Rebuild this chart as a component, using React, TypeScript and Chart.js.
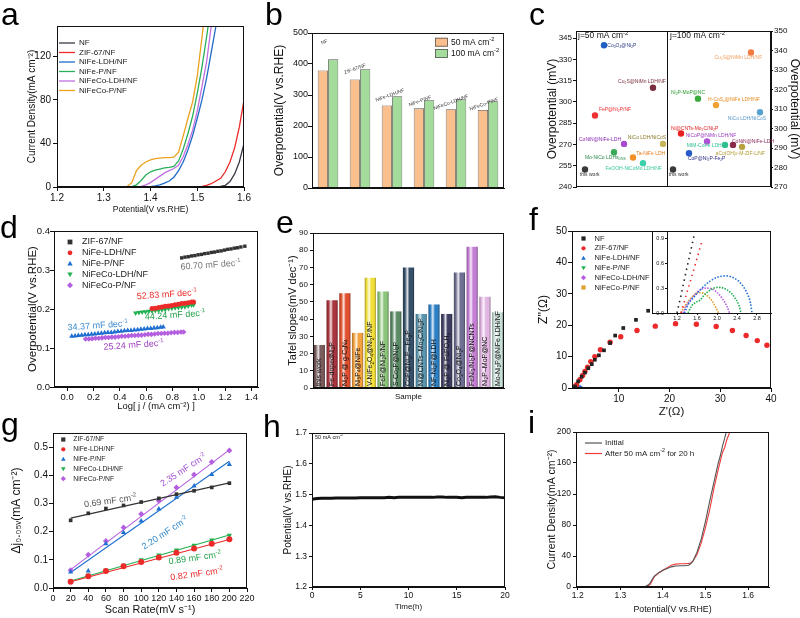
import React, { useEffect, useRef } from "react";
import { Chart, registerables } from "chart.js";

Chart.register(...registerables);

const FONT = '"Liberation Sans", Arial, Helvetica, sans-serif';

/* ================= DATA ================= */
// (a) LSV curves
const A_SERIES = ["NF", "ZIF-67/NF", "NiFe-LDH/NF", "NiFe-P/NF", "NiFeCo-LDH/NF", "NiFeCo-P/NF"];
const A_POTENTIAL = [1.2, 1.3, 1.34, 1.35, 1.36, 1.37, 1.38, 1.39, 1.4, 1.41, 1.42, 1.43, 1.44, 1.45, 1.46, 1.47, 1.48, 1.49, 1.5, 1.51, 1.52, 1.53, 1.54, 1.55, 1.56, 1.57, 1.58, 1.59, 1.6];
const A_NF = [0, 0, 0, 0, 0, 0, 0, 0, 0, 0, 0, 0, 0, 0, 0, 0, 0, 0, 0, 0, 0, 0.1, 0.2, 0.5, 1.5, 5, 12, 23, 40];
const A_ZIF = [0.2, 0.2, 0.2, 0.2, 0.2, 0.2, 0.2, 0.2, 0.2, 0.2, 0.2, 0.2, 0.2, 0.2, 0.2, 0.2, 0.2, 0.3, 0.4, 0.6, 1.5, 3, 5.5, 8, 14, 23, 36, 55, 80];
const A_NIFE_LDH = [0, 0, 0, 0, 0, 0, 0, 0, 0.3, 1, 2, 3.5, 5.5, 9, 15, 23, 34, 47, 63, 80, 100, 124, 148, 175, null, null, null, null, null];
const A_NIFE_P = [0, 0, 0, 0, 0.3, 2, 6, 11, 14, 15.5, 16.5, 17.5, 18, 19, 24, 35, 49, 65, 86, 110, 138, 168, null, null, null, null, null, null, null];
const A_NIFECO_LDH = [0, 0, 0, 0, 0, 0, 0.5, 2, 4, 7, 10, 13, 15, 17, 20, 28, 39, 52, 70, 92, 115, 148, 185, null, null, null, null, null, null];
const A_NIFECO_P = [0, 0, 0, 0.5, 4, 15, 20, 23, 25, 26, 26.5, 27, 27, 27.5, 32, 47, 63, 78, 102, 137, 175, null, null, null, null, null, null, null, null];
const A_XTICKS = [1.2, 1.3, 1.4, 1.5, 1.6];
const A_YTICKS = [0, 40, 80, 120];

// (b) overpotential bars
const B_SAMPLES = ["NF", "ZIF-67/NF", "NiFe-LDH/NF", "NiFe-P/NF", "NiFeCo-LDH/NF", "NiFeCo-P/NF"];
const B_50 = [379, 350, 266, 257, 254, 252];
const B_100 = [415, 383, 296, 283, 286, 280];
const B_YTICKS = [0, 100, 200, 300, 400, 500];

// (c) comparison with literature
const C50_NAMES = ["Co_{3}O_{4}@Ni_{2}P", "Cu_{2}S@NiMn LDH/NF", "FeP@Ni_{2}P/NF", "CoNiN@NiFe-LDH", "NiCo LDH/NiCoS", "Mo-NiCo LDHs_{DNS}", "Ta-NiFe LDH", "FeOOH-NiCoMo LDH/NF", "this work"];
const C50_VALUES = [340, 310, 290.4, 270.4, 270.4, 264.5, 260.8, 256.8, 252.3];
const C50_SLOT = [28, 77, 19, 48, 87, 38, 57, 67, 9];
const C100_NAMES = ["Cu_{2}S@NiMn LDH/NF", "Ni_{2}P-MoP@NC", "H-CoS_{x}@NiFe LDH/NF", "NiCo LDH/NiCoS", "Ni@CNTs-Mo_{2}C/Ni_{2}P", "NiCoP@NiMn LDH/NF", "MIM-CoFe LDH", "CoNiN@NiFe-LDH", "aCo(OH)_{2}-M-ZIF-L/NF", "CoP@Ni_{2}P-Fe_{2}P", "this work"];
const C100_VALUES = [339, 315.3, 312, 308.3, 297.4, 293.3, 291.6, 291.6, 290.6, 287.3, 279];
const C100_SLOT = [175, 122, 140, 184, 105, 131, 149, 157, 166, 113, 97];
const C_LEFT_TICKS = [240, 255, 270, 285, 300, 315, 330, 345];
const C_RIGHT_TICKS = [270, 280, 290, 300, 310, 320, 330, 340, 350];

// (d) Tafel plots
const D_SERIES = ["ZIF-67/NF", "NiFe-LDH/NF", "NiFe-P/NF", "NiFeCo-LDH/NF", "NiFeCo-P/NF"];
const D_ZIF_X = [0.87, 0.895, 0.92, 0.945, 0.97, 0.995, 1.02, 1.045, 1.07, 1.095, 1.12, 1.145, 1.17, 1.195, 1.22, 1.245, 1.27, 1.295, 1.32, 1.35];
const D_ZIF_Y = [0.331, 0.333, 0.334, 0.336, 0.337, 0.339, 0.34, 0.342, 0.343, 0.345, 0.346, 0.348, 0.349, 0.351, 0.353, 0.354, 0.356, 0.357, 0.359, 0.361];
const D_LDH_X = [0.645, 0.67, 0.695, 0.72, 0.745, 0.77, 0.795, 0.82, 0.845, 0.87, 0.895, 0.92, 0.945, 0.96];
const D_LDH_Y = [0.201, 0.202, 0.204, 0.205, 0.207, 0.208, 0.209, 0.211, 0.212, 0.214, 0.215, 0.216, 0.218, 0.218];
const D_P_X = [0.035, 0.06, 0.085, 0.11, 0.135, 0.16, 0.185, 0.21, 0.235, 0.26, 0.285, 0.31, 0.335, 0.36, 0.385, 0.41, 0.435, 0.46, 0.485, 0.51, 0.535, 0.56, 0.585, 0.61, 0.635, 0.66, 0.685, 0.71, 0.73];
const D_P_Y = [0.13, 0.131, 0.132, 0.133, 0.134, 0.134, 0.135, 0.136, 0.137, 0.138, 0.139, 0.14, 0.14, 0.141, 0.142, 0.143, 0.144, 0.145, 0.145, 0.146, 0.147, 0.148, 0.149, 0.15, 0.15, 0.151, 0.152, 0.153, 0.154];
const D_COLDH_X = [0.52, 0.545, 0.57, 0.595, 0.62, 0.645, 0.67, 0.695, 0.72, 0.745, 0.77, 0.795, 0.82, 0.845, 0.87, 0.895, 0.92, 0.945, 0.96];
const D_COLDH_Y = [0.19, 0.191, 0.192, 0.193, 0.194, 0.195, 0.196, 0.197, 0.198, 0.199, 0.201, 0.202, 0.203, 0.204, 0.205, 0.206, 0.208, 0.21, 0.211];
const D_COP_X = [0.14, 0.165, 0.19, 0.215, 0.24, 0.265, 0.29, 0.315, 0.34, 0.365, 0.39, 0.415, 0.44, 0.465, 0.49, 0.515, 0.54, 0.565, 0.59, 0.615, 0.64, 0.665, 0.69, 0.715, 0.74, 0.765, 0.79, 0.815, 0.84, 0.865, 0.885];
const D_COP_Y = [0.123, 0.123, 0.124, 0.125, 0.125, 0.126, 0.127, 0.127, 0.128, 0.128, 0.129, 0.13, 0.13, 0.131, 0.132, 0.132, 0.133, 0.133, 0.134, 0.135, 0.135, 0.136, 0.137, 0.137, 0.138, 0.138, 0.139, 0.14, 0.14, 0.141, 0.141];
const D_SLOPES = ["60.70 mF dec^{-1}", "52.83 mF dec^{-1}", "34.37 mF dec^{-1}", "44.24 mF dec^{-1}", "25.24 mF dec^{-1}"];
const D_XTICKS = [0, 0.2, 0.4, 0.6, 0.8, 1.0, 1.2, 1.4];
const D_YTICKS = [0, 0.1, 0.2, 0.3, 0.4];

// (e) Tafel slope comparison
const E_SAMPLES = ["this work", "Fe-dopedNi_{2}P", "Ni_{2}P @ g-C_{3}N_{4}", "Ni_{5}P_{4}@NiFe", "V-NiFe_{2}O_{4}@Ni_{2}P/NF", "FeP@Ni_{2}P/NF", "S-Co_{2}P@Ni_{2}P", "CoP@Ni_{2}P– Fe_{2}P", "Ni@CNTs–Mo_{2}C/Ni_{2}P", "NF-Ni_{2}P@LDH", "Ni_{2}P @ FePO_{x}H_{y}", "Co_{3}O_{4}@Ni_{2}P", "FeNi_{3}/Ni_{2}P@NCNTs", "Ni_{2}P–MoP@NC", "Mo-Ni_{2}P@NiFe LDH/NF"];
const E_TAFEL = [25, 51, 55, 32, 64, 56, 44.5, 70, 43, 48.5, 43, 67, 82, 53, 44];
const E_YTICKS = [0, 10, 20, 30, 40, 50, 60, 70, 80, 90];

// (f) Nyquist plots
const F_SERIES = ["NF", "ZIF-67/NF", "NiFe-LDH/NF", "NiFe-P/NF", "NiFeCo-LDH/NF", "NiFeCo-P/NF"];
const F_NF_X = [1.4, 2.0, 2.7, 3.35, 4.0, 4.7, 5.3, 6.1, 7.1, 8.3, 9.3, 10.9, 13.4, 15.8];
const F_NF_Y = [0.5, 2.1, 3.6, 4.9, 6.3, 7.6, 9.0, 10.4, 12.0, 14.3, 16.7, 19.1, 21.7, 24.6];
const F_ZIF_X = [1.2, 1.7, 2.36, 2.89, 3.35, 3.87, 4.5, 5.3, 6.4, 8.3, 10.4, 13.6, 17.2, 21.2, 25.3, 29.2, 32.4, 35.1, 37.3, 39.2];
const F_ZIF_Y = [0.3, 1.05, 2.64, 4.0, 5.3, 6.6, 8.4, 10.0, 12.2, 14.6, 16.3, 18.3, 19.7, 20.5, 20.3, 19.6, 18.3, 16.7, 15.1, 13.6];
const F_LDH_X = [1.45, 1.9, 2.4, 2.7];
const F_LDH_Y = [0.1, 0.4, 0.35, 0];
const F_P_X = [1.5, 2.0, 2.45];
const F_P_Y = [0.1, 0.3, 0];
const F_COLDH_X = [1.35, 1.8, 2.2];
const F_COLDH_Y = [0.1, 0.3, 0];
const F_COP_X = [1.3, 1.65, 2.0];
const F_COP_Y = [0.1, 0.24, 0];
const F_XTICKS = [10, 20, 30, 40];
const F_YTICKS = [0, 10, 20, 30, 40, 50];
// inset
const FI_NF_X = [1.2, 1.3, 1.4, 1.5, 1.55];
const FI_NF_Y = [0, 0.27, 0.55, 0.82, 0.96];
const FI_ZIF_X = [1.28, 1.4, 1.5, 1.6, 1.71];
const FI_ZIF_Y = [0, 0.25, 0.45, 0.66, 0.89];
const FI_LDH_X = [1.35, 1.42, 1.55, 1.7, 1.85, 2.0, 2.17, 2.35, 2.5, 2.6, 2.67, 2.7];
const FI_LDH_Y = [0, 0.1, 0.2, 0.3, 0.38, 0.43, 0.448, 0.42, 0.34, 0.24, 0.12, 0];
const FI_P_X = [1.42, 1.5, 1.58, 1.65, 1.75, 1.9, 2.03, 2.2, 2.35, 2.44, 2.48];
const FI_P_Y = [0, 0.09, 0.13, 0.15, 0.22, 0.29, 0.31, 0.28, 0.19, 0.09, 0];
const FI_COLDH_X = [1.32, 1.4, 1.5, 1.6, 1.7, 1.79, 1.9, 2.0, 2.1, 2.2, 2.25];
const FI_COLDH_Y = [0, 0.1, 0.18, 0.25, 0.29, 0.3, 0.29, 0.25, 0.18, 0.08, 0];
const FI_COP_X = [1.28, 1.35, 1.45, 1.55, 1.63, 1.72, 1.82, 1.92, 1.98, 2.03];
const FI_COP_Y = [0, 0.08, 0.16, 0.22, 0.245, 0.24, 0.2, 0.13, 0.06, 0];
const FI_XTICKS = [1.2, 1.6, 2.0, 2.4, 2.8];
const FI_YTICKS = [0, 0.3, 0.6, 0.9];

// (g) double-layer capacitance
const G_SERIES = ["ZIF-67/NF", "NiFe-LDH/NF", "NiFe-P/NF", "NiFeCo-LDH/NF", "NiFeCo-P/NF"];
const G_RATE = [20, 40, 60, 80, 100, 120, 140, 160, 180, 200];
const G_ZIF = [0.24, 0.265, 0.282, 0.293, 0.305, 0.318, 0.333, 0.345, 0.357, 0.372];
const G_NIFE_LDH = [0.022, 0.042, 0.06, 0.077, 0.092, 0.108, 0.125, 0.14, 0.157, 0.173];
const G_NIFE_P = [0.057, 0.06, 0.157, 0.197, 0.238, 0.28, 0.322, 0.362, 0.403, 0.438];
const G_NIFECO_LDH = [0.025, 0.045, 0.063, 0.081, 0.1, 0.117, 0.135, 0.152, 0.17, 0.187];
const G_NIFECO_P = [0.063, 0.118, 0.167, 0.215, 0.263, 0.31, 0.357, 0.402, 0.447, 0.488];
const G_FIT_RATE = [20, 200];
const G_FIT_ZIF = [0.248, 0.373];
const G_FIT_NIFE_LDH = [0.022, 0.172];
const G_FIT_NIFE_P = [0.055, 0.45];
const G_FIT_NIFECO_LDH = [0.025, 0.188];
const G_FIT_NIFECO_P = [0.065, 0.49];
const G_CDL = ["0.69 mF cm^{-2}", "0.82 mF cm^{-2}", "2.20 mF cm^{-2}", "0.89 mF cm^{-2}", "2.35 mF cm^{-2}"];
const G_XTICKS = [0, 20, 40, 60, 80, 100, 120, 140, 160, 180, 200, 220];
const G_YTICKS = [0, 0.1, 0.2, 0.3, 0.4, 0.5];

// (h) chronopotentiometry
const H_TIME = [0, 0.5, 1, 1.5, 2, 2.5, 3, 3.5, 4, 4.5, 5, 5.5, 6, 6.5, 7, 7.5, 8, 8.5, 9, 9.5, 10, 10.5, 11, 11.5, 12, 12.5, 13, 13.5, 14, 14.5, 15, 15.5, 16, 16.5, 17, 17.5, 18, 18.5, 19, 19.5, 20];
const H_POTENTIAL = [1.485, 1.487, 1.488, 1.488, 1.488, 1.489, 1.489, 1.489, 1.489, 1.489, 1.49, 1.49, 1.49, 1.49, 1.49, 1.49, 1.491, 1.49, 1.491, 1.491, 1.491, 1.491, 1.491, 1.491, 1.491, 1.491, 1.492, 1.492, 1.491, 1.491, 1.491, 1.49, 1.491, 1.491, 1.491, 1.491, 1.491, 1.492, 1.493, 1.491, 1.49];
const H_XTICKS = [0, 5, 10, 15, 20];
const H_YTICKS = [1.2, 1.3, 1.4, 1.5, 1.6, 1.7];

// (i) LSV before / after
const I_SERIES = ["Initial", "After 50 mA cm^{-2} for 20 h"];
const I_POTENTIAL = [1.2, 1.34, 1.35, 1.36, 1.365, 1.37, 1.375, 1.38, 1.39, 1.4, 1.41, 1.42, 1.43, 1.44, 1.45, 1.46, 1.465, 1.47, 1.48, 1.49, 1.5, 1.51, 1.52, 1.53, 1.535, 1.54, 1.545, 1.55, 1.555, 1.56];
const I_INITIAL = [0, 0, 0.3, 1, 2.5, 5, 10, 14, 18.5, 21.5, 24, 26, 27, 27.5, 27.5, 28, 30, 33, 45, 62, 85, 111, 136, 160, 170, 182, 192, 203, null, null];
const I_AFTER = [0, 0, 0.2, 0.8, 1.5, 3, 8, 13.5, 18, 21.5, 25, 28, 29.5, 30, 30, 30.5, 31, 33, 42, 57, 77, 100, 128, 152, 163, 174, 180, 190, 197, 205];
const I_XTICKS = [1.2, 1.3, 1.4, 1.5, 1.6];
const I_YTICKS = [0, 40, 80, 120, 160, 200];

/* ================= helpers ================= */
type Geo = { x: number; y: number; w: number; h: number; L: number; T: number; R: number; B: number };

const f1 = (v: number) => v.toFixed(1);
const f0 = (v: number) => String(Math.round(v));
const plain = (s: string) => s.replace(/[_^]\{([^}]*)\}/g, "$1");

function pts(xs: number[], ys: (number | null)[]) {
  const out: { x: number; y: number }[] = [];
  xs.forEach((x, i) => {
    const y = ys[i];
    if (y !== null && y !== undefined) out.push({ x, y });
  });
  return out;
}

function hexRgb(h: string) {
  const n = parseInt(h.slice(1), 16);
  return [(n >> 16) & 255, (n >> 8) & 255, n & 255];
}
function mix(h: string, t: string, k: number) {
  const a = hexRgb(h);
  const b = hexRgb(t);
  return `rgb(${a.map((v, i) => Math.round(v + (b[i] - v) * k)).join(",")})`;
}

function parseRich(s: string) {
  const segs: { t: string; m: number }[] = [];
  let buf = "";
  let i = 0;
  while (i < s.length) {
    const c = s[i];
    if ((c === "_" || c === "^") && s[i + 1] === "{") {
      if (buf) segs.push({ t: buf, m: 0 });
      buf = "";
      const end = s.indexOf("}", i + 2);
      segs.push({ t: s.slice(i + 2, end), m: c === "_" ? -1 : 1 });
      i = end + 1;
    } else {
      buf += c;
      i++;
    }
  }
  if (buf) segs.push({ t: buf, m: 0 });
  return segs;
}

function drawRich(ctx: CanvasRenderingContext2D, s: string, x: number, y: number, size: number, color: string, align = "left", rot = 0) {
  const segs = parseRich(s);
  const fnt = (m: number) => `${m ? size * 0.68 : size}px ${FONT}`;
  let total = 0;
  const ws = segs.map((g) => {
    ctx.font = fnt(g.m);
    const w = ctx.measureText(g.t).width;
    total += w;
    return w;
  });
  ctx.save();
  ctx.translate(x, y);
  if (rot) ctx.rotate((rot * Math.PI) / 180);
  ctx.fillStyle = color;
  ctx.textBaseline = "middle";
  ctx.textAlign = "left";
  let cx = align === "left" ? 0 : align === "center" ? -total / 2 : -total;
  segs.forEach((g, k) => {
    ctx.font = fnt(g.m);
    const dy = g.m === -1 ? size * 0.28 : g.m === 1 ? -size * 0.32 : 0;
    ctx.fillText(g.t, cx, dy);
    cx += ws[k];
  });
  ctx.restore();
}

function marker(ctx: CanvasRenderingContext2D, kind: string, x: number, y: number, r: number, color: string) {
  ctx.save();
  ctx.fillStyle = color;
  ctx.beginPath();
  if (kind === "square") ctx.rect(x - r, y - r, 2 * r, 2 * r);
  else if (kind === "circle") ctx.arc(x, y, r, 0, Math.PI * 2);
  else if (kind === "tri") {
    ctx.moveTo(x, y - r * 1.15);
    ctx.lineTo(x + r * 1.1, y + r * 0.8);
    ctx.lineTo(x - r * 1.1, y + r * 0.8);
    ctx.closePath();
  } else if (kind === "tridown") {
    ctx.moveTo(x, y + r * 1.15);
    ctx.lineTo(x + r * 1.1, y - r * 0.8);
    ctx.lineTo(x - r * 1.1, y - r * 0.8);
    ctx.closePath();
  } else if (kind === "diamond") {
    ctx.moveTo(x, y - r * 1.25);
    ctx.lineTo(x + r * 1.25, y);
    ctx.lineTo(x, y + r * 1.25);
    ctx.lineTo(x - r * 1.25, y);
    ctx.closePath();
  }
  ctx.fill();
  ctx.restore();
}

function linAxis(o: any) {
  const horiz = o.pos === "bottom";
  return {
    type: "linear",
    position: o.pos,
    min: o.min,
    max: o.max,
    afterBuildTicks: (s: any) => {
      s.ticks = o.ticks.map((v: number) => ({ value: v }));
    },
    afterFit: (s: any) => {
      if (horiz) s.height = o.box;
      else s.width = o.box;
    },
    ticks: {
      display: true,
      autoSkip: false,
      maxRotation: 0,
      minRotation: 0,
      padding: o.pad,
      color: "#111",
      font: { family: FONT, size: o.size },
      callback: (v: any) => (o.fmt ? o.fmt(Number(v)) : String(v)),
    },
    grid: { display: true, drawOnChartArea: false, drawTicks: true, tickLength: o.len ?? 4, color: "#111", lineWidth: 1 },
    border: { display: true, color: "#111", width: 1 },
    title: o.title
      ? {
          display: true,
          text: o.title,
          color: "#111",
          font: { family: FONT, size: o.tsize },
          padding: horiz ? { top: 0, bottom: o.tpad } : { top: o.tpad, bottom: 0 },
        }
      : { display: false },
  };
}

function opts(g: Geo, scales: any, pad?: any) {
  return {
    responsive: false,
    maintainAspectRatio: false,
    animation: false,
    events: [],
    layout: { padding: pad ?? { left: 0, top: g.T - g.y, right: g.x + g.w - g.R, bottom: 0 } },
    plugins: { legend: { display: false }, tooltip: { enabled: false }, title: { display: false } },
    scales,
  };
}

const framePlugin = {
  id: "frame",
  afterDatasetsDraw(chart: any) {
    const { ctx, chartArea: a } = chart;
    ctx.save();
    ctx.strokeStyle = "#111";
    ctx.lineWidth = 1;
    ctx.strokeRect(Math.round(a.left) + 0.5, Math.round(a.top) + 0.5, Math.round(a.right - a.left) - 1, Math.round(a.bottom - a.top) - 1);
    ctx.restore();
  },
};

function deco(id: string, g: Geo, fn: (ch: any, ctx: CanvasRenderingContext2D, X: (v: number) => number, Y: (v: number) => number) => void) {
  return {
    id,
    afterDatasetsDraw(chart: any) {
      const ctx = chart.ctx as CanvasRenderingContext2D;
      ctx.save();
      fn(chart, ctx, (v) => v - g.x, (v) => v - g.y);
      ctx.restore();
    },
  };
}

function line(label: string, data: any[], color: string, width = 1.2, extra: any = {}) {
  return { label, data, showLine: true, borderColor: color, backgroundColor: color, borderWidth: width, pointRadius: 0, ...extra };
}
function scat(label: string, data: any[], color: string, style: string, r: number, extra: any = {}) {
  return { label, data, showLine: false, pointStyle: style, pointRadius: r, pointBackgroundColor: color, pointBorderColor: color, pointBorderWidth: 0, backgroundColor: color, borderColor: color, ...extra };
}

/* ================= geometry ================= */
const GA: Geo = { x: 0, y: 0, w: 265, h: 220, L: 57, T: 26, R: 244, B: 187 };
const GB: Geo = { x: 265, y: 0, w: 265, h: 220, L: 312, T: 33, R: 504, B: 188 };
const GC: Geo = { x: 530, y: 0, w: 270, h: 220, L: 576, T: 31, R: 771, B: 187 };
const GD: Geo = { x: 0, y: 205, w: 265, h: 213, L: 54, T: 231, R: 258, B: 387 };
const GE: Geo = { x: 265, y: 205, w: 265, h: 213, L: 313, T: 233, R: 504, B: 388 };
const GF: Geo = { x: 530, y: 205, w: 270, h: 220, L: 572, T: 231, R: 771, B: 388 };
const GFI: Geo = { x: 652, y: 226, w: 121, h: 100, L: 667, T: 231, R: 771, B: 313 };
const GG: Geo = { x: 0, y: 410, w: 265, h: 208, L: 53, T: 433, R: 247, B: 588 };
const GH: Geo = { x: 265, y: 410, w: 265, h: 208, L: 312, T: 433, R: 505, B: 587 };
const GI: Geo = { x: 530, y: 410, w: 270, h: 208, L: 576, T: 432, R: 769, B: 587 };

const COL = {
  dark: "#3a3a48",
  red: "#ec2a2a",
  blue: "#1f6cc8",
  green: "#2bb05a",
  violet: "#c070e0",
  orange: "#eba21d",
};

/* ================= panel builders ================= */
function makeA() {
  const series = [A_NF, A_ZIF, A_NIFE_LDH, A_NIFE_P, A_NIFECO_LDH, A_NIFECO_P];
  const colors = [COL.dark, COL.red, COL.blue, COL.green, COL.violet, COL.orange];
  return {
    type: "scatter",
    data: { datasets: series.map((s, k) => line(A_SERIES[k], pts(A_POTENTIAL, s), colors[k], 1.3)) },
    options: opts(GA, {
      x: linAxis({ pos: "bottom", min: 1.2, max: 1.6, ticks: A_XTICKS, fmt: f1, size: 10, box: GA.y + GA.h - GA.B, pad: 1, title: "Potential(V vs.RHE)", tsize: 8.5, tpad: 4.9 }),
      y: linAxis({ pos: "left", min: 0, max: 148, ticks: A_YTICKS, fmt: f0, size: 10, box: GA.L - GA.x, pad: 2, title: "Current Density(mA cm⁻²)", tsize: 10, tpad: 26 }),
    }),
    plugins: [
      framePlugin,
      deco("legA", GA, (ch, ctx, X, Y) => {
        A_SERIES.forEach((s, k) => {
          const y = Y(43 + 9.5 * k);
          ctx.strokeStyle = colors[k];
          ctx.lineWidth = 1.3;
          ctx.beginPath();
          ctx.moveTo(X(59), y);
          ctx.lineTo(X(75), y);
          ctx.stroke();
          drawRich(ctx, s, X(79), y, 8, "#222");
        });
      }),
    ],
  };
}

const B_COLORS = ["#fbbf8e", "#a4dc9c"];
const B_LABEL_AT = [[-3.7, 471], [-5, 384], [-2, 299], [-4, 280], [-5, 276], [-4, 270]];
function makeB() {
  return {
    type: "bar",
    data: {
      labels: B_SAMPLES,
      datasets: [
        { label: "50 mA cm⁻²", data: B_50, backgroundColor: B_COLORS[0], borderColor: "#555", borderWidth: 0.8, categoryPercentage: 0.64, barPercentage: 1 },
        { label: "100 mA cm⁻²", data: B_100, backgroundColor: B_COLORS[1], borderColor: "#555", borderWidth: 0.8, categoryPercentage: 0.64, barPercentage: 1 },
      ],
    },
    options: opts(GB, {
      x: {
        type: "category",
        afterFit: (s: any) => {
          s.height = GB.y + GB.h - GB.B;
        },
        ticks: { display: false },
        grid: { display: false },
        border: { display: true, color: "#111" },
      },
      y: linAxis({ pos: "left", min: 0, max: 500, ticks: B_YTICKS, fmt: f0, size: 9, box: GB.L - GB.x, pad: 0, title: "Overpotential(V vs.RHE)", tsize: 12, tpad: 7.8 }),
    }),
    plugins: [
      framePlugin,
      deco("decoB", GB, (ch, ctx, X, Y) => {
        const xs = ch.scales.x;
        const ys = ch.scales.y;
        B_SAMPLES.forEach((s, i) => {
          const [dx, v] = B_LABEL_AT[i];
          drawRich(ctx, s, xs.getPixelForValue(i) + dx, ys.getPixelForValue(v), 5, "#333", "center", -20);
        });
        ["50 mA cm^{-2}", "100 mA cm^{-2}"].forEach((t, k) => {
          const yc = 42.2 + 11.3 * k;
          ctx.fillStyle = B_COLORS[k];
          ctx.fillRect(X(435), Y(yc - 4.5), 13, 9);
          ctx.strokeStyle = "#555";
          ctx.lineWidth = 0.8;
          ctx.strokeRect(X(435) + 0.5, Y(yc - 4.5) + 0.5, 12, 8);
          drawRich(ctx, t, X(451), Y(yc), 8.5, "#111");
        });
      }),
    ],
  };
}

const C50_COLORS = ["#1f5fc4", "#7a2f3f", "#ee3030", "#a64ad0", "#c8b45a", "#3aaa5a", "#f0902a", "#3ad0a8", "#3a3a3a"];
const C50_TEXT = ["#2a3a80", "#7a2f3f", "#ee3030", "#8a2ab0", "#8a7a2a", "#2a8a4a", "#e07a1a", "#3ac8a0", "#333333"];
const C100_COLORS = ["#f07a40", "#3aaa3a", "#f0a030", "#5aa0d0", "#e82020", "#b050d8", "#30c090", "#8a2a4a", "#b8a040", "#2a5ac8", "#3a3a3a"];
const C100_TEXT = ["#f0a060", "#2a9a2a", "#e88a20", "#5a9ac8", "#e02020", "#9a3ac0", "#30c090", "#8a2a5a", "#b09a30", "#2a2a80", "#333333"];
const C50_LAB: [number, number, string][] = [[3.3, 0.7, "left"], [-11, -5.7, "center"], [20, -5.7, "center"], [-24, -4.7, "center"], [-16, -6.3, "center"], [-8.7, 5.3, "center"], [3.3, -3.7, "left"], [-9.3, 5.7, "center"], [4.7, 5.3, "center"]];
const C100_LAB: [number, number, string][] = [[-12.7, 5.3, "center"], [-10, -6, "center"], [18, -5.7, "center"], [-13, 6, "center"], [13.7, -5.3, "center"], [4, -6, "center"], [-3.3, 1, "right"], [20, -3.3, "center"], [-1.7, 6.3, "center"], [17.7, 5.7, "center"], [5.7, 5.3, "center"]];
const C_DIVIDER = 91;
function makeC() {
  return {
    type: "scatter",
    data: {
      datasets: [
        { label: "j=50 mA cm⁻²", data: pts(C50_SLOT, C50_VALUES), yAxisID: "y", pointRadius: 3.2, pointBackgroundColor: C50_COLORS, pointBorderColor: C50_COLORS, pointBorderWidth: 0 },
        { label: "j=100 mA cm⁻²", data: pts(C100_SLOT, C100_VALUES), yAxisID: "y2", pointRadius: 3.2, pointBackgroundColor: C100_COLORS, pointBorderColor: C100_COLORS, pointBorderWidth: 0 },
      ],
    },
    options: opts(
      GC,
      {
        x: { type: "linear", display: false, min: 0, max: 195 },
        y: linAxis({ pos: "left", min: 240, max: 350, ticks: C_LEFT_TICKS, fmt: f0, size: 8, box: GC.L - GC.x, pad: 1, len: 3, title: "Overpotential (mV)", tsize: 12, tpad: 15.5 }),
        y2: linAxis({ pos: "right", min: 270, max: 350, ticks: C_RIGHT_TICKS, fmt: f0, size: 8, box: GC.x + GC.w - GC.R, pad: 1, len: 2, title: "Overpotential (mV)", tsize: 12, tpad: -2 }),
      },
      { left: 0, top: GC.T - GC.y, right: 0, bottom: GC.y + GC.h - GC.B }
    ),
    plugins: [
      framePlugin,
      deco("decoC", GC, (ch, ctx, X, Y) => {
        const xs = ch.scales.x;
        const y1 = ch.scales.y;
        const y2 = ch.scales.y2;
        const xd = Math.round(xs.getPixelForValue(C_DIVIDER)) + 0.5;
        ctx.strokeStyle = "#111";
        ctx.lineWidth = 1;
        ctx.beginPath();
        ctx.moveTo(xd, ch.chartArea.top);
        ctx.lineTo(xd, ch.chartArea.bottom);
        ctx.stroke();
        drawRich(ctx, "j=50 mA cm^{-2}", X(578), Y(36), 8.5, "#111");
        drawRich(ctx, "j=100 mA cm^{-2}", X(670), Y(36), 8.5, "#111");
        C50_NAMES.forEach((n, i) => {
          const [dx, dy, al] = C50_LAB[i];
          drawRich(ctx, n, xs.getPixelForValue(C50_SLOT[i]) + dx, y1.getPixelForValue(C50_VALUES[i]) + dy, 5, C50_TEXT[i], al);
        });
        C100_NAMES.forEach((n, i) => {
          const [dx, dy, al] = C100_LAB[i];
          drawRich(ctx, n, xs.getPixelForValue(C100_SLOT[i]) + dx, y2.getPixelForValue(C100_VALUES[i]) + dy, 5, C100_TEXT[i], al);
        });
      }),
    ],
  };
}

const D_COLORS = ["#333333", COL.red, "#1f6fd0", "#22b050", "#b45fe0"];
const D_TEXTCOL = ["#777777", COL.red, "#3a8ad0", "#22a04a", "#a040c0"];
const D_KINDS = ["square", "circle", "tri", "tridown", "diamond"];
const D_LAB_AT = [[1.09, 0.3126], [0.758, 0.237], [0.232, 0.157], [0.82, 0.184], [0.505, 0.107]];
function makeD() {
  return {
    type: "scatter",
    data: {
      datasets: [
        scat(D_SERIES[0], pts(D_ZIF_X, D_ZIF_Y), D_COLORS[0], "rect", 2.4),
        scat(D_SERIES[1], pts(D_LDH_X, D_LDH_Y), D_COLORS[1], "circle", 2.5),
        scat(D_SERIES[2], pts(D_P_X, D_P_Y), D_COLORS[2], "triangle", 3),
        scat(D_SERIES[3], pts(D_COLDH_X, D_COLDH_Y), D_COLORS[3], "triangle", 3, { pointRotation: 180 }),
        scat(D_SERIES[4], pts(D_COP_X, D_COP_Y), D_COLORS[4], "rectRot", 2.8),
      ],
    },
    options: opts(GD, {
      x: linAxis({ pos: "bottom", min: -0.1, max: 1.45, ticks: D_XTICKS, fmt: f1, size: 9.5, box: GD.y + GD.h - GD.B, pad: 1, title: "Log[ j / (mA cm⁻²) ]", tsize: 9.4, tpad: 5.6 }),
      y: linAxis({ pos: "left", min: 0, max: 0.4, ticks: D_YTICKS, fmt: f1, size: 9.5, box: GD.L - GD.x, pad: 0, title: "Overpotential(V vs.RHE)", tsize: 11.5, tpad: 26 }),
    }),
    plugins: [
      framePlugin,
      deco("decoD", GD, (ch, ctx, X, Y) => {
        const xs = ch.scales.x;
        const ys = ch.scales.y;
        D_SERIES.forEach((s, k) => {
          const y = Y(242 + 10.8 * k);
          marker(ctx, D_KINDS[k], X(70), y, 2.4, D_COLORS[k]);
          drawRich(ctx, s, X(82), y, 9, "#222");
        });
        D_SLOPES.forEach((t, k) => {
          drawRich(ctx, t, xs.getPixelForValue(D_LAB_AT[k][0]), ys.getPixelForValue(D_LAB_AT[k][1]), 9, D_TEXTCOL[k], "center", -4);
        });
      }),
    ],
  };
}

const E_COLORS = ["#7a5c5c", "#a8343f", "#e0502e", "#f4a23f", "#f2de3a", "#8cc47c", "#5a8a66", "#36506a", "#5a96ae", "#2d80c4", "#3e3e62", "#707092", "#c47ed4", "#e2b6e2", "#c6dfd6"];
function makeE() {
  return {
    type: "bar",
    data: {
      labels: E_SAMPLES.map(plain),
      datasets: [
        {
          label: "Tafel slope",
          data: E_TAFEL,
          borderWidth: 0,
          categoryPercentage: 0.88,
          barPercentage: 1,
          backgroundColor: (c: any) => {
            const base = E_COLORS[c.dataIndex % E_COLORS.length];
            const ch = c.chart;
            const a = ch.chartArea;
            if (!a || c.type !== "data" || !ch.scales.x) return base;
            const cx = ch.scales.x.getPixelForValue(c.dataIndex);
            const w = ((a.right - a.left) / E_TAFEL.length) * 0.88;
            const g = ch.ctx.createLinearGradient(cx - w / 2, 0, cx + w / 2, 0);
            g.addColorStop(0, mix(base, "#000000", 0.3));
            g.addColorStop(0.18, base);
            g.addColorStop(0.4, mix(base, "#ffffff", 0.85));
            g.addColorStop(0.58, base);
            g.addColorStop(0.85, base);
            g.addColorStop(1, mix(base, "#000000", 0.35));
            return g;
          },
        },
      ],
    },
    options: opts(GE, {
      x: {
        type: "category",
        afterFit: (s: any) => {
          s.height = GE.y + GE.h - GE.B;
        },
        ticks: { display: false },
        grid: { display: false },
        border: { display: true, color: "#111" },
        title: { display: true, text: "Sample", color: "#111", font: { family: FONT, size: 8 }, padding: { top: 0, bottom: 16.5 } },
      },
      y: linAxis({ pos: "left", min: 0, max: 90, ticks: E_YTICKS, fmt: f0, size: 8, box: GE.L - GE.x, pad: 2, len: 3, title: "Tafel slopes(mV dec⁻¹)", tsize: 11, tpad: 21 }),
    }),
    plugins: [
      framePlugin,
      deco("decoE", GE, (ch, ctx) => {
        const xs = ch.scales.x;
        E_SAMPLES.forEach((n, i) => {
          drawRich(ctx, n, xs.getPixelForValue(i), ch.chartArea.bottom - 2, 7, "#111", "left", -90);
        });
      }),
    ],
  };
}

const F_COLORS = ["#222222", COL.red, "#1f6fd0", "#22b050", "#b45fe0", "#e0a030"];
const F_KINDS = ["square", "circle", "tri", "tridown", "diamond", "square"];
function makeF() {
  return {
    type: "scatter",
    data: {
      datasets: [
        scat(F_SERIES[0], pts(F_NF_X, F_NF_Y), F_COLORS[0], "rect", 2.6),
        scat(F_SERIES[1], pts(F_ZIF_X, F_ZIF_Y), F_COLORS[1], "circle", 2.7),
        scat(F_SERIES[2], pts(F_LDH_X, F_LDH_Y), F_COLORS[2], "triangle", 2.5),
        scat(F_SERIES[3], pts(F_P_X, F_P_Y), F_COLORS[3], "triangle", 2.5, { pointRotation: 180 }),
        scat(F_SERIES[4], pts(F_COLDH_X, F_COLDH_Y), F_COLORS[4], "rectRot", 2.5),
        scat(F_SERIES[5], pts(F_COP_X, F_COP_Y), F_COLORS[5], "rect", 2.2),
      ],
    },
    options: opts(GF, {
      x: linAxis({ pos: "bottom", min: 0.8, max: 40, ticks: F_XTICKS, fmt: f0, size: 10, box: GF.y + GF.h - GF.B, pad: 1, title: "Z'(Ω)", tsize: 11.5, tpad: 6.1 }),
      y: linAxis({ pos: "left", min: 0, max: 50, ticks: F_YTICKS, fmt: f0, size: 10, box: GF.L - GF.x, pad: 1, title: "Z''(Ω)", tsize: 12, tpad: 6.1 }),
    }),
    plugins: [
      framePlugin,
      deco("legF", GF, (ch, ctx, X, Y) => {
        F_SERIES.forEach((s, k) => {
          const y = Y(238.5 + 9.8 * k);
          marker(ctx, F_KINDS[k], X(583.5), y, 2.1, F_COLORS[k]);
          drawRich(ctx, s, X(594.5), y, 7.5, "#222");
        });
      }),
    ],
  };
}

function makeFInset() {
  const dotted = (label: string, xs: number[], ys: number[], color: string, dash: number[]) => ({
    label,
    data: pts(xs, ys),
    showLine: true,
    borderColor: color,
    backgroundColor: color,
    borderWidth: 1.6,
    borderDash: dash,
    pointRadius: 0,
    tension: 0.4,
    cubicInterpolationMode: "monotone",
  });
  return {
    type: "scatter",
    data: {
      datasets: [
        dotted(F_SERIES[0], FI_NF_X, FI_NF_Y, F_COLORS[0], [1.5, 4]),
        dotted(F_SERIES[1], FI_ZIF_X, FI_ZIF_Y, F_COLORS[1], [1.5, 4]),
        dotted(F_SERIES[2], FI_LDH_X, FI_LDH_Y, F_COLORS[2], [1.5, 1.6]),
        dotted(F_SERIES[3], FI_P_X, FI_P_Y, F_COLORS[3], [1.5, 1.3]),
        dotted(F_SERIES[4], FI_COLDH_X, FI_COLDH_Y, F_COLORS[4], [1.5, 1.3]),
        dotted(F_SERIES[5], FI_COP_X, FI_COP_Y, F_COLORS[5], [1.5, 1.3]),
      ],
    },
    options: opts(GFI, {
      x: linAxis({ pos: "bottom", min: 1.0, max: 3.08, ticks: FI_XTICKS, fmt: f1, size: 5.5, box: GFI.y + GFI.h - GFI.B, pad: 0.5, len: 2 }),
      y: linAxis({ pos: "left", min: 0, max: 0.99, ticks: FI_YTICKS, fmt: f1, size: 5.5, box: GFI.L - GFI.x, pad: 1, len: 2 }),
    }),
    plugins: [
      {
        id: "insetBg",
        beforeDraw(chart: any) {
          const ctx = chart.ctx;
          ctx.save();
          ctx.fillStyle = "#fff";
          ctx.fillRect(652 - GFI.x, 231 - GFI.y, 119, 82);
          ctx.restore();
        },
        afterDraw(chart: any) {
          const ctx = chart.ctx;
          ctx.save();
          ctx.strokeStyle = "#111";
          ctx.lineWidth = 1;
          ctx.strokeRect(652 - GFI.x + 0.5, 231 - GFI.y + 0.5, 118, 82);
          ctx.restore();
        },
      },
    ],
  };
}

const G_COLORS = ["#333333", COL.red, "#1f6fd0", "#22b050", "#b45fe0"];
const G_TEXTCOL = ["#555555", COL.red, "#2f86c8", "#22a04a", "#a050d0"];
const G_KINDS = ["square", "circle", "tri", "tridown", "diamond"];
const G_LAB_AT = [[65, 0.308, -8], [163, 0.049, -8], [127, 0.194, -33], [161, 0.106, -8], [148, 0.418, -33]];
function makeG() {
  const series = [G_ZIF, G_NIFE_LDH, G_NIFE_P, G_NIFECO_LDH, G_NIFECO_P];
  const fits = [G_FIT_ZIF, G_FIT_NIFE_LDH, G_FIT_NIFE_P, G_FIT_NIFECO_LDH, G_FIT_NIFECO_P];
  const styles = ["rect", "circle", "triangle", "triangle", "rectRot"];
  const datasets: any[] = [];
  series.forEach((s, k) => {
    datasets.push(scat(G_SERIES[k], pts(G_RATE, s), G_COLORS[k], styles[k], k === 0 ? 2.6 : 3, k === 3 ? { pointRotation: 180 } : {}));
  });
  fits.forEach((f, k) => {
    datasets.push(line(G_SERIES[k] + " fit", pts(G_FIT_RATE, f), G_COLORS[k], 1.1));
  });
  return {
    type: "scatter",
    data: { datasets },
    options: opts(GG, {
      x: linAxis({ pos: "bottom", min: 0, max: 220, ticks: G_XTICKS, fmt: f0, size: 9, box: GG.y + GG.h - GG.B, pad: 1, title: "Scan Rate(mV s⁻¹)", tsize: 10.9, tpad: 1.4 }),
      y: linAxis({ pos: "left", min: 0, max: 0.55, ticks: G_YTICKS, fmt: f1, size: 10, box: GG.L - GG.x, pad: 1, title: "Δj₀.₀₅ᵥ(mA cm⁻²)", tsize: 12, tpad: 9.5 }),
    }),
    plugins: [
      framePlugin,
      deco("decoG", GG, (ch, ctx, X, Y) => {
        const xs = ch.scales.x;
        const ys = ch.scales.y;
        G_SERIES.forEach((s, k) => {
          const y = Y(439.5 + 9.8 * k);
          marker(ctx, G_KINDS[k], X(63.3), y, 2.1, G_COLORS[k]);
          drawRich(ctx, s, X(73.3), y, 6.8, "#222");
        });
        G_CDL.forEach((t, k) => {
          const [vx, vy, rot] = G_LAB_AT[k];
          drawRich(ctx, t, xs.getPixelForValue(vx), ys.getPixelForValue(vy), 9, G_TEXTCOL[k], "center", rot);
        });
      }),
    ],
  };
}

function makeH() {
  return {
    type: "scatter",
    data: { datasets: [line("50 mA cm⁻²", pts(H_TIME, H_POTENTIAL), "#111", 3)] },
    options: opts(GH, {
      x: linAxis({ pos: "bottom", min: 0, max: 20, ticks: H_XTICKS, fmt: f0, size: 8.5, box: GH.y + GH.h - GH.B, pad: 1, len: 3, title: "Time(h)", tsize: 8, tpad: 6.5 }),
      y: linAxis({ pos: "left", min: 1.2, max: 1.7, ticks: H_YTICKS, fmt: f1, size: 8.5, box: GH.L - GH.x, pad: 2, len: 3, title: "Potential(V vs.RHE)", tsize: 10, tpad: 17.3 }),
    }),
    plugins: [
      framePlugin,
      deco("decoH", GH, (ch, ctx, X, Y) => {
        drawRich(ctx, "50 mA cm^{-2}", X(315), Y(437), 5.5, "#111");
      }),
    ],
  };
}

const I_COLORS = ["#555555", "#ee3a3a"];
function makeI() {
  return {
    type: "scatter",
    data: {
      datasets: [
        line(plain(I_SERIES[0]), pts(I_POTENTIAL, I_INITIAL), I_COLORS[0], 1.1),
        line(plain(I_SERIES[1]), pts(I_POTENTIAL, I_AFTER), I_COLORS[1], 1.1),
      ],
    },
    options: opts(GI, {
      x: linAxis({ pos: "bottom", min: 1.196, max: 1.649, ticks: I_XTICKS, fmt: f1, size: 8.5, box: GI.y + GI.h - GI.B, pad: 1, len: 3, title: "Potential(V vs.RHE)", tsize: 8.8, tpad: 3.4 }),
      y: linAxis({ pos: "left", min: 0, max: 200, ticks: I_YTICKS, fmt: f0, size: 8.5, box: GI.L - GI.x, pad: 2, len: 3, title: "Current Density(mA cm⁻²)", tsize: 10.5, tpad: 15.4 }),
    }),
    plugins: [
      framePlugin,
      deco("legI", GI, (ch, ctx, X, Y) => {
        I_SERIES.forEach((s, k) => {
          const y = Y(443 + 10.5 * k);
          ctx.strokeStyle = I_COLORS[k];
          ctx.lineWidth = 1.2;
          ctx.beginPath();
          ctx.moveTo(X(585), y);
          ctx.lineTo(X(602), y);
          ctx.stroke();
          drawRich(ctx, s, X(605), y, 8, "#222");
        });
      }),
    ],
  };
}

/* ================= components ================= */
function ChartCanvas({ g, make }: { g: Geo; make: () => any }) {
  const ref = useRef<HTMLCanvasElement | null>(null);
  useEffect(() => {
    const chart = new Chart(ref.current as HTMLCanvasElement, make() as any);
    return () => chart.destroy();
  }, []);
  return <canvas ref={ref} width={g.w} height={g.h} style={{ position: "absolute", left: g.x, top: g.y, width: g.w, height: g.h }} />;
}

const LETTERS: [string, number, number][] = [
  ["a", 1, -2],
  ["b", 265, -2],
  ["c", 529, -2],
  ["d", 0, 211],
  ["e", 276, 206],
  ["f", 529, 203],
  ["g", 1, 408],
  ["h", 263, 410],
  ["i", 528, 406],
];

export default function App() {
  return (
    <div style={{ position: "absolute", left: 0, top: 0, width: 800, height: 618, background: "#fff", overflow: "hidden" }}>
      <ChartCanvas g={GA} make={makeA} />
      <ChartCanvas g={GB} make={makeB} />
      <ChartCanvas g={GC} make={makeC} />
      <ChartCanvas g={GD} make={makeD} />
      <ChartCanvas g={GE} make={makeE} />
      <ChartCanvas g={GF} make={makeF} />
      <ChartCanvas g={GFI} make={makeFInset} />
      <ChartCanvas g={GG} make={makeG} />
      <ChartCanvas g={GH} make={makeH} />
      <ChartCanvas g={GI} make={makeI} />
      {LETTERS.map(([t, x, y]) => (
        <div key={t} style={{ position: "absolute", left: x, top: y, fontFamily: FONT, fontSize: 32, lineHeight: "32px", color: "#000" }}>
          {t}
        </div>
      ))}
    </div>
  );
}
